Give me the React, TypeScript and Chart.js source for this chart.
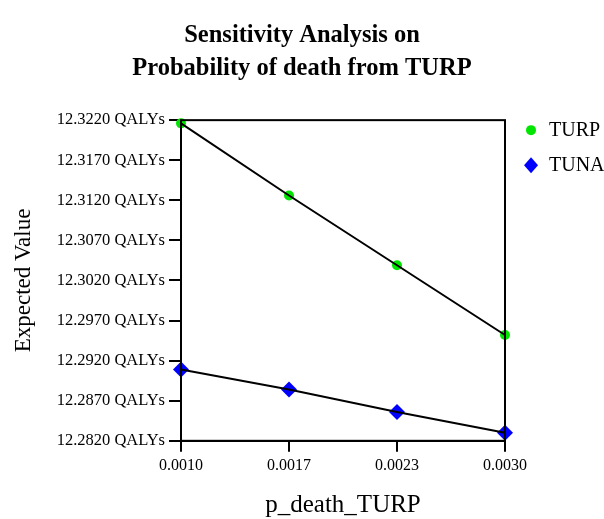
import React, { useEffect, useRef } from "react";
import { Chart, registerables } from "chart.js";

Chart.register(...registerables);

const xValues = [0.001, 0.0016667, 0.0023333, 0.003];
const turpValues = [12.3216, 12.3126, 12.3039, 12.2952];
const tunaValues = [12.2909, 12.2884, 12.2856, 12.2830];
const seriesNames = ["TURP", "TUNA"];
const titleLines = ["Sensitivity Analysis on", "Probability of death from TURP"];
const xTitle = "p_death_TURP";
const yTitle = "Expected Value";
const yMin = 12.282;
const yMax = 12.322;
const yStep = 0.005;

const FONT = "'Liberation Serif', 'Times New Roman', serif";
const GREEN = "#00e600";
const BLUE = "#0000ff";

const frameAndLegend = {
  id: "frameAndLegend",
  afterDraw(chart: any) {
    const { ctx, chartArea } = chart;
    ctx.save();
    ctx.strokeStyle = "#000";
    ctx.lineWidth = 2;
    ctx.strokeRect(chartArea.left, chartArea.top, chartArea.right - chartArea.left, chartArea.bottom - chartArea.top);
    const lx = chartArea.right + 26;
    const ly = chartArea.top + 10;
    ctx.font = `20px ${FONT}`;
    ctx.textBaseline = "middle";
    ctx.textAlign = "left";
    ctx.fillStyle = GREEN;
    ctx.beginPath();
    ctx.arc(lx, ly, 5, 0, Math.PI * 2);
    ctx.fill();
    ctx.fillStyle = "#000";
    ctx.fillText(seriesNames[0], lx + 18, ly + 1);
    const ly2 = ly + 35;
    ctx.fillStyle = BLUE;
    ctx.beginPath();
    ctx.moveTo(lx, ly2 - 8);
    ctx.lineTo(lx + 7, ly2);
    ctx.lineTo(lx, ly2 + 8);
    ctx.lineTo(lx - 7, ly2);
    ctx.closePath();
    ctx.fill();
    ctx.fillStyle = "#000";
    ctx.fillText(seriesNames[1], lx + 18, ly2 + 1);
    ctx.restore();
  },
};

export default function App() {
  const ref = useRef<HTMLCanvasElement | null>(null);
  useEffect(() => {
    document.body.style.margin = "0";
    const ctx = ref.current!.getContext("2d")!;
    const toPts = (ys: number[]) => xValues.map((x, i) => ({ x, y: ys[i] }));
    const chart = new Chart(ctx, {
      type: "scatter",
      data: {
        datasets: [
          {
            label: seriesNames[0] + " line",
            data: toPts(turpValues),
            showLine: true,
            borderColor: "#000",
            borderWidth: 2,
            pointRadius: 0,
            clip: false,
            order: 0,
          },
          {
            label: seriesNames[1] + " line",
            data: toPts(tunaValues),
            showLine: true,
            borderColor: "#000",
            borderWidth: 2,
            pointRadius: 0,
            clip: false,
            order: 0,
          },
          {
            label: seriesNames[0],
            data: toPts(turpValues),
            pointStyle: "circle",
            pointRadius: 5,
            backgroundColor: GREEN,
            borderWidth: 0,
            clip: false,
            order: 1,
          },
          {
            label: seriesNames[1],
            data: toPts(tunaValues),
            pointStyle: "rectRot",
            pointRadius: 8,
            backgroundColor: BLUE,
            borderWidth: 0,
            clip: false,
            order: 1,
          },
        ] as any,
      },
      options: {
        animation: false,
        responsive: false,
        maintainAspectRatio: false,
        layout: { padding: { left: 0, right: 0, top: 19, bottom: 0 } },
        plugins: {
          legend: { display: false },
          tooltip: { enabled: false },
          title: {
            display: true,
            text: titleLines,
            color: "#000",
            font: { family: FONT, size: 24.5, weight: "bold", lineHeight: 1.35 },
            padding: { top: 0, bottom: 35 },
          },
        },
        scales: {
          x: {
            type: "linear",
            min: xValues[0],
            max: xValues[xValues.length - 1],
            afterBuildTicks: (axis: any) => {
              axis.ticks = xValues.map((v) => ({ value: v }));
            },
            grid: { display: true, drawOnChartArea: false, drawTicks: true, tickLength: 11, color: "#000", lineWidth: 2 },
            border: { display: true, color: "#000", width: 2 },
            ticks: {
              color: "#000",
              font: { family: FONT, size: 16 },
              padding: 4,
              maxRotation: 0,
              callback: (v: any) => Number(v).toFixed(4),
            },
            title: {
              display: true,
              text: xTitle,
              color: "#000",
              font: { family: FONT, size: 25, lineHeight: 0.76 },
              padding: { top: 16.5, bottom: 4.5 },
            },
          },
          y: {
            type: "linear",
            min: yMin,
            max: yMax,
            afterFit: (scale: any) => {
              scale.width = 181;
            },
            ticks: {
              stepSize: yStep,
              color: "#000",
              font: { family: FONT, size: 16.5 },
              padding: 4,
              callback: (v: any) => Number(v).toFixed(4) + " QALYs",
            },
            grid: { display: true, drawOnChartArea: false, drawTicks: true, tickLength: 12, color: "#000", lineWidth: 2 },
            border: { display: true, color: "#000", width: 2 },
            title: {
              display: true,
              text: yTitle,
              color: "#000",
              font: { family: FONT, size: 23 },
              padding: { top: 10, bottom: 0 },
            },
          },
          yRight: {
            type: "linear",
            position: "right",
            display: true,
            min: yMin,
            max: yMax,
            grid: { display: false, drawTicks: false },
            border: { display: false },
            ticks: { display: false },
            afterFit: (scale: any) => {
              scale.width = 99;
            },
          },
        },
      } as any,
      plugins: [frameAndLegend],
    });
    return () => chart.destroy();
  }, []);
  return <canvas ref={ref} width={604} height={519} style={{ display: "block" }} />;
}
